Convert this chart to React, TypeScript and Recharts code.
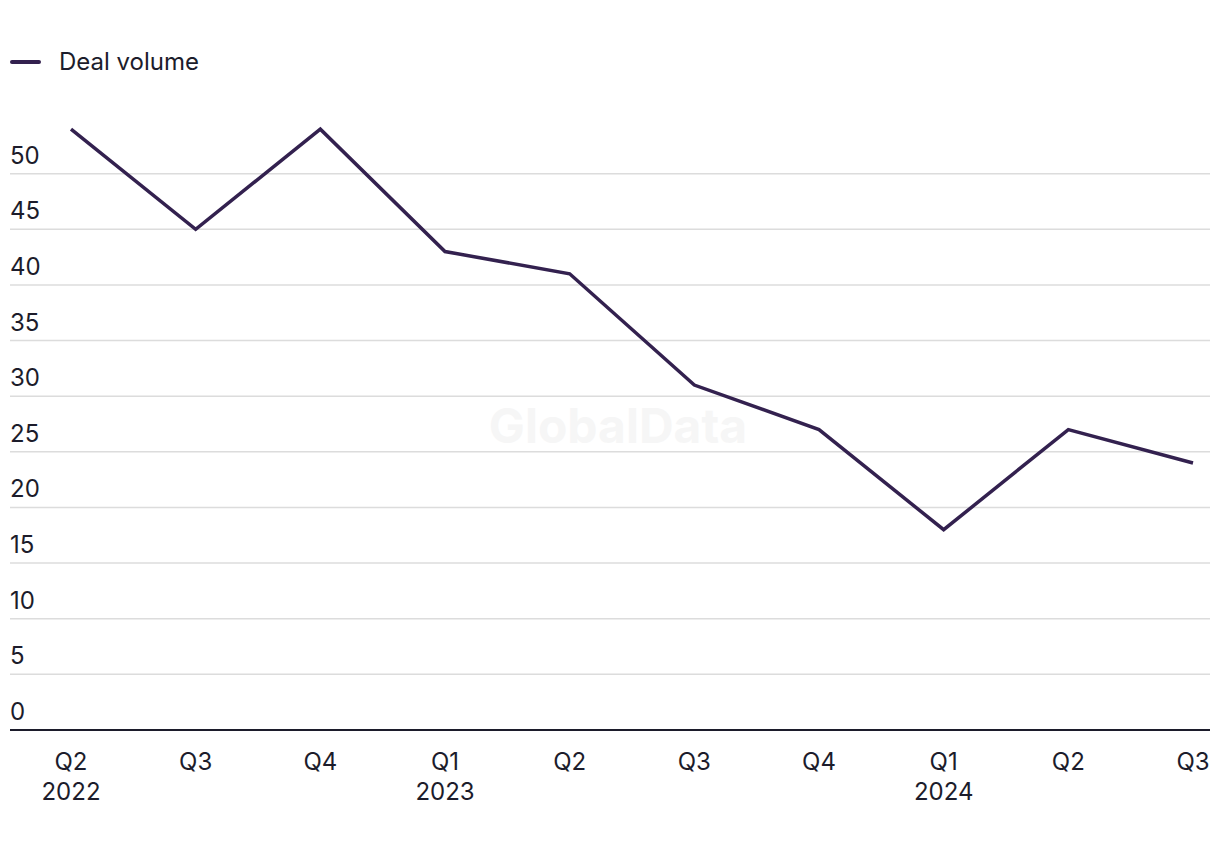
import { LineChart, Line, XAxis, YAxis, CartesianGrid } from "recharts";

const quarters = ["Q2", "Q3", "Q4", "Q1", "Q2", "Q3", "Q4", "Q1", "Q2", "Q3"];
const years = ["2022", "", "", "2023", "", "", "", "2024", "", ""];
const dealVolume = [54, 45, 54, 43, 41, 31, 27, 18, 27, 24];
const yTicks = [0, 5, 10, 15, 20, 25, 30, 35, 40, 45, 50];

const data = quarters.map((q, i) => ({
  key: `${q}-${i}`,
  quarter: q,
  year: years[i],
  value: dealVolume[i],
}));

const FONT = "Inter, 'Noto Sans', sans-serif";
const TEXT = "#1c1c2b";
const LINE = "#33214f";
const FS = 24;

const XTick = (props: any) => {
  const { x, y, index } = props;
  const row = data[index];
  return (
    <text x={x} y={y} textAnchor="middle" fill={TEXT} fontSize={FS} fontFamily={FONT}>
      <tspan x={x} dy={40}>{row.quarter}</tspan>
      {row.year && (
        <tspan x={x} dy={30}>
          {row.year}
        </tspan>
      )}
    </text>
  );
};

const YTick = (props: any) => {
  const { y, payload } = props;
  return (
    <text x={2} y={y - 10} textAnchor="start" fill={TEXT} fontSize={FS} fontFamily={FONT}>
      {payload.value}
    </text>
  );
};

export default function App() {
  return (
    <div style={{ position: "relative", width: 1212, height: 842, fontFamily: FONT }}>
      {/* faint watermark behind the chart */}
      <div
        style={{
          position: "absolute",
          left: 0,
          width: 1220,
          top: 388,
          textAlign: "center",
          fontSize: 48,
          fontWeight: 700,
          color: "#f6f6f6",
          userSelect: "none",
        }}
      >
        GlobalData
      </div>
      <div
        style={{
          position: "absolute",
          left: 2,
          top: 39,
          display: "flex",
          alignItems: "center",
          fontSize: FS,
          color: TEXT,
        }}
      >
        <span
          style={{
            display: "inline-block",
            width: 31,
            height: 4,
            borderRadius: 2,
            background: LINE,
            marginRight: 18,
          }}
        />
        Deal volume
      </div>
      <LineChart
        width={1212}
        height={842}
        data={data}
        margin={{ top: 110, right: 10, bottom: 60, left: 1 }}
        style={{ position: "absolute", left: 0, top: 0 }}
      >
        <CartesianGrid
          vertical={false}
          horizontalValues={yTicks}
          stroke="#dcdcdc"
          strokeWidth={1.5}
        />
        <XAxis
          dataKey="key"
          type="category"
          interval={0}
          height={60}
          padding={{ left: 61, right: 17 }}
          axisLine={{ stroke: TEXT, strokeWidth: 2 }}
          tickLine={false}
          tickSize={0}
          tickMargin={0}
          tick={<XTick />}
        />
        <YAxis
          width={1}
          domain={[0, 55]}
          ticks={yTicks}
          interval={0}
          axisLine={false}
          tickLine={false}
          tick={<YTick />}
        />
        <Line
          type="linear"
          dataKey="value"
          stroke={LINE}
          strokeWidth={3.5}
          dot={false}
          activeDot={false}
          isAnimationActive={false}
        />
      </LineChart>
    </div>
  );
}
